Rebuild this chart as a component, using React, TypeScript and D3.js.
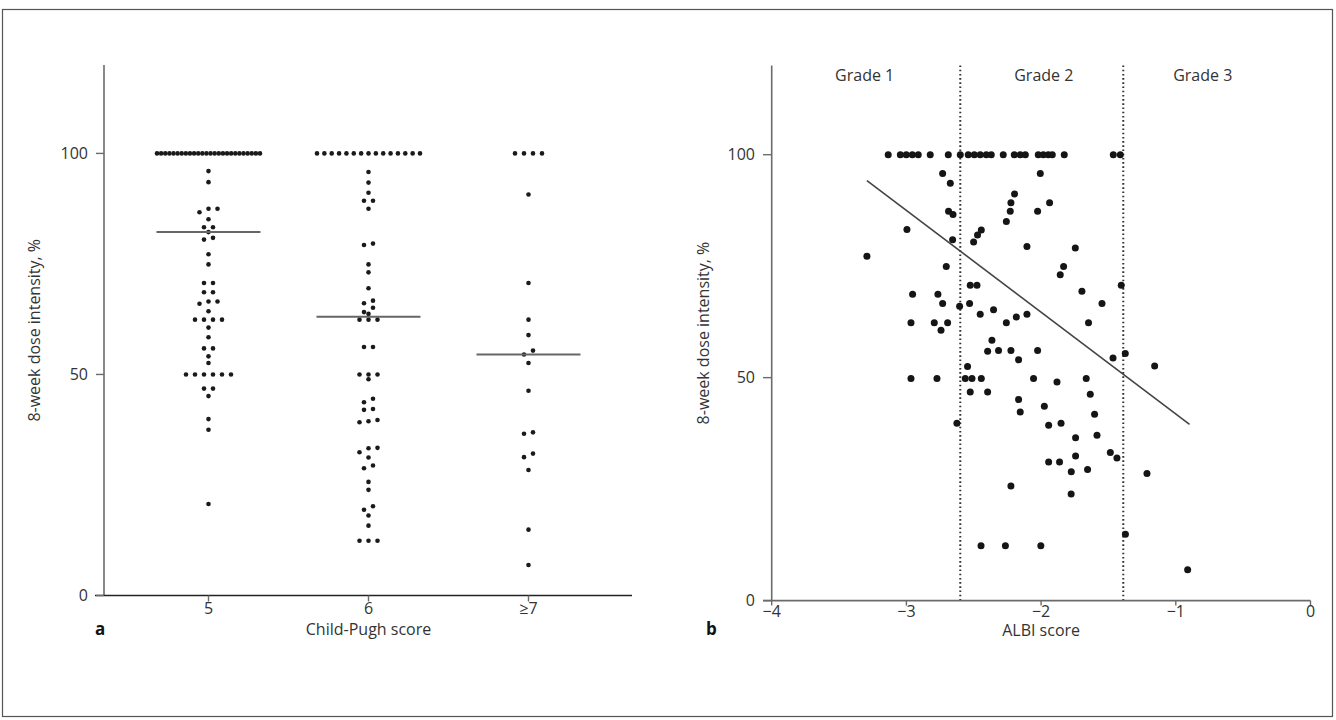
import React from "react";
import * as d3 from "d3";

// ---------- Panel a data: 8-week dose intensity (%) by Child-Pugh score ----------
const cpCategories = ["5", "6", "≥7"];
const cp5 = [
  100, 100, 100, 100, 100, 100, 100, 100, 100, 100, 100, 100, 100,
  100, 100, 100, 100, 100, 100, 100, 100, 100, 100, 100, 100, 100,
  96, 93.5, 87.5, 87.5, 86.7, 85.1, 83.3, 83.3, 82.2, 80.9, 80.5, 77.2, 74.9,
  70.7, 70.7, 68.6, 68.6, 66.5, 66.5, 66.0, 64.3, 62.4, 62.4, 62.4, 62.4,
  60.6, 58.4, 55.9, 55.9, 54.1, 52.6, 50, 50, 50, 50, 50, 50,
  46.8, 46.8, 45.1, 39.9, 37.5, 20.7,
];
const cp6 = [
  100, 100, 100, 100, 100, 100, 100, 100, 100, 100, 100, 100, 100, 100, 100,
  95.8, 93.4, 91.1, 89.3, 89.3, 87.5, 79.6, 79.3, 74.9, 73.1, 69.5,
  66.7, 66.1, 65.1, 64.1, 63.7, 62.4, 62.4, 62.4, 56.2, 56.2,
  50, 50, 50, 48.9, 44.5, 43.7, 42.2, 42.0, 39.7, 39.4, 39.2,
  33.4, 33.3, 32.4, 31.2, 29.4, 28.8, 25.7, 23.9, 20.2, 19.4, 18.1, 15.8,
  12.4, 12.4, 12.4,
];
const cp7 = [
  100, 100, 100, 100, 90.7, 70.7, 62.4, 58.9, 55.4, 54.5, 52.6, 46.3,
  36.9, 36.6, 32.1, 31.3, 28.4, 14.9, 6.9,
];
const cpSeries = [cp5, cp6, cp7];
const yTicks = [0, 50, 100];

// ---------- Panel b data: dose intensity vs ALBI score ----------
const albiX = [
  -3.135, -3.045, -3.001, -2.956, -2.912, -2.823, -2.689, -2.6, -2.541, -2.496,
  -2.452, -2.407, -2.37, -2.281, -2.199, -2.155, -2.117, -2.021, -1.984, -1.947,
  -1.917, -1.828, -1.464, -1.412,
  -2.731, -2.674, -2.687, -2.654, -2.996, -2.657, -3.293, -2.704, -2.501, -2.472,
  -2.444, -2.258, -2.229, -2.224, -2.197, -2.954, -2.766, -2.731, -2.605, -2.531,
  -2.526, -2.476, -2.353, -2.006, -1.937, -2.026, -2.105, -1.746, -1.833, -1.858,
  -1.697, -1.548, -1.405, -2.452, -2.966, -2.793, -2.694, -2.743, -2.258, -2.184,
  -2.365, -2.397, -2.316, -2.224, -2.167, -2.546, -2.966, -2.773, -2.563, -2.513,
  -2.444, -2.526, -2.397, -2.167, -2.155, -2.625, -2.224, -2.105, -1.648, -2.026,
  -1.466, -1.375, -1.157, -2.056, -1.882, -1.665, -1.635, -1.976, -1.603, -1.944,
  -1.852, -1.744, -1.585, -1.486, -1.437, -1.944, -1.863, -1.744, -1.776, -1.655,
  -1.214, -1.777, -1.374, -2.446, -2.265, -2.002, -0.912,
];
const albiY = [
  100, 100, 100, 100, 100, 100, 100, 100, 100, 100,
  100, 100, 100, 100, 100, 100, 100, 100, 100, 100,
  100, 100, 100, 100,
  95.8, 93.6, 87.3, 86.6, 83.2, 80.9, 77.2, 74.9, 80.4, 82.0,
  83.1, 85.0, 87.3, 89.2, 91.2, 68.7, 68.7, 66.6, 66.0, 66.6,
  70.7, 70.7, 65.2, 95.8, 89.2, 87.3, 79.4, 79.1, 74.9, 73.1,
  69.4, 66.6, 70.7, 64.2, 62.3, 62.3, 62.3, 60.6, 62.3, 63.6,
  58.4, 55.9, 56.1, 56.1, 54.0, 52.5, 49.8, 49.8, 49.8, 49.8,
  49.8, 46.8, 46.8, 45.1, 42.3, 39.8, 25.7, 64.2, 62.3, 56.1,
  54.4, 55.4, 52.6, 49.8, 49.0, 49.8, 46.3, 43.6, 41.8, 39.3,
  39.8, 36.5, 37.1, 33.2, 32.0, 31.1, 31.1, 32.4, 28.9, 29.4,
  28.5, 23.9, 14.9, 12.3, 12.3, 12.3, 6.9,
];
const albiTicks = [-4, -3, -2, -1, 0];
const gradeCutoffs = [-2.6, -1.39];
const gradeLabels = ["Grade 1", "Grade 2", "Grade 3"];
const gradeLabelX = [-3.31, -1.98, -0.8];
const fitX = [-3.293, -0.898];
const fitY = [94.2, 39.5];

const FONT = "'Open Sans', 'Noto Sans', sans-serif";
const TEXT = "#333";
const AXIS = "#6b6b6b";

function swarm(values: number[], cx: number, y: (v: number) => number) {
  const pts = values.map((v) => ({ v, py: y(v) })).sort((a, b) => a.py - b.py);
  const out: { x: number; y: number }[] = [];
  let i = 0;
  while (i < pts.length) {
    const start = pts[i].py;
    const grp = [pts[i]];
    let j = i + 1;
    while (j < pts.length && pts[j].py - start < 4.6) {
      grp.push(pts[j]);
      j++;
    }
    grp.sort((a, b) => a.v - b.v);
    const n = grp.length;
    const step = n > 1 ? Math.min(9, 103 / (n - 1)) : 0;
    grp.forEach((p, k) => out.push({ x: cx + (k - (n - 1) / 2) * step, y: p.py }));
    i = j;
  }
  return out;
}

export default function App() {
  // Panel a scales
  const xa = d3.scalePoint<string>().domain(cpCategories).range([208.5, 528.5]);
  const ya = d3.scaleLinear().domain([0, 120]).range([595.5, 65]);
  // Panel b scales
  const xb = d3.scaleLinear().domain([-4, 0]).range([771.7, 1310.5]);
  const yb = d3.scaleLinear().domain([0, 120]).range([600.6, 65.5]);

  const fitLine = d3
    .line<number>()
    .x((_, i) => xb(fitX[i]))
    .y((d) => yb(d));

  return (
    <svg
      width={1336}
      height={720}
      style={{ position: "absolute", left: 0, top: 0, background: "#fff" }}
      fontFamily={FONT}
    >
      <rect x={2.5} y={9.5} width={1330} height={707} fill="none" stroke="#555" strokeWidth={1.2} />

      {/* ---------------- Panel a ---------------- */}
      <g>
        <line x1={104} x2={104} y1={ya(120)} y2={ya(0)} stroke={AXIS} strokeWidth={1.6} />
        <line x1={95} x2={632} y1={ya(0)} y2={ya(0)} stroke="#222" strokeWidth={1.4} />
        {yTicks.map((t) => (
          <g key={t}>
            <line x1={96} x2={104} y1={ya(t)} y2={ya(t)} stroke={AXIS} strokeWidth={1.4} />
            <text x={88} y={ya(t)} dy="0.36em" textAnchor="end" fontSize={16} fill={TEXT}>
              {t}
            </text>
          </g>
        ))}
        {cpCategories.map((c) => (
          <g key={c}>
            <line x1={xa(c)} x2={xa(c)} y1={ya(0)} y2={ya(0) + 6} stroke={AXIS} strokeWidth={1.4} />
            <text x={xa(c)} y={ya(0) + 18} textAnchor="middle" fontSize={16} fill={TEXT}>
              {c}
            </text>
          </g>
        ))}
        {cpSeries.map((vals, si) => {
          const cx = xa(cpCategories[si]) as number;
          const pts = swarm(vals, cx, ya);
          const med = d3.median(vals) as number;
          return (
            <g key={si}>
              {pts.map((p, k) => (
                <circle key={k} cx={p.x} cy={p.y} r={2.3} fill="#1a1a1a" />
              ))}
              <line x1={cx - 52} x2={cx + 52} y1={ya(med)} y2={ya(med)} stroke="#666" strokeWidth={2} />
            </g>
          );
        })}
        <text
          transform={`translate(40, ${ya(60)}) rotate(-90)`}
          textAnchor="middle"
          fontSize={16}
          fill={TEXT}
        >
          8-week dose intensity, %
        </text>
        <text x={xa("6")} y={635} textAnchor="middle" fontSize={16} fill={TEXT}>
          Child-Pugh score
        </text>
        <text x={95} y={635} fontSize={17} fontWeight="bold" fill="#111">
          a
        </text>
      </g>

      {/* ---------------- Panel b ---------------- */}
      <g>
        {gradeCutoffs.map((g) => (
          <line
            key={g}
            x1={xb(g)}
            x2={xb(g)}
            y1={yb(120)}
            y2={yb(0)}
            stroke="#333"
            strokeWidth={2}
            strokeDasharray="1.6 2.6"
          />
        ))}
        <line x1={xb(-4)} x2={xb(-4)} y1={yb(120)} y2={yb(0)} stroke={AXIS} strokeWidth={1.6} />
        <line x1={763} x2={xb(0)} y1={yb(0)} y2={yb(0)} stroke={AXIS} strokeWidth={1.6} />
        {yTicks.map((t) => (
          <g key={t}>
            <line x1={763} x2={xb(-4)} y1={yb(t)} y2={yb(t)} stroke={AXIS} strokeWidth={1.4} />
            <text x={755} y={yb(t)} dy="0.36em" textAnchor="end" fontSize={16} fill={TEXT}>
              {t}
            </text>
          </g>
        ))}
        {albiTicks.map((t) => (
          <g key={t}>
            <line x1={xb(t)} x2={xb(t)} y1={yb(0)} y2={yb(0) + 5} stroke={AXIS} strokeWidth={1.4} />
            <text x={xb(t)} y={yb(0) + 16} textAnchor="middle" fontSize={16} fill={TEXT}>
              {t < 0 ? `−${Math.abs(t)}` : `${t}`}
            </text>
          </g>
        ))}
        {gradeLabels.map((g, i) => (
          <text key={g} x={xb(gradeLabelX[i])} y={81} textAnchor="middle" fontSize={16} fill={TEXT}>
            {g}
          </text>
        ))}
        {albiX.map((x, i) => (
          <circle key={i} cx={xb(x)} cy={yb(albiY[i])} r={3.5} fill="#151515" />
        ))}
        <path d={fitLine(fitY) || ""} fill="none" stroke="#444" strokeWidth={1.6} />
        <text
          transform={`translate(709, ${yb(60)}) rotate(-90)`}
          textAnchor="middle"
          fontSize={16}
          fill={TEXT}
        >
          8-week dose intensity, %
        </text>
        <text x={xb(-2)} y={636} textAnchor="middle" fontSize={16} fill={TEXT}>
          ALBI score
        </text>
        <text x={706} y={635} fontSize={17} fontWeight="bold" fill="#111">
          b
        </text>
      </g>
    </svg>
  );
}
